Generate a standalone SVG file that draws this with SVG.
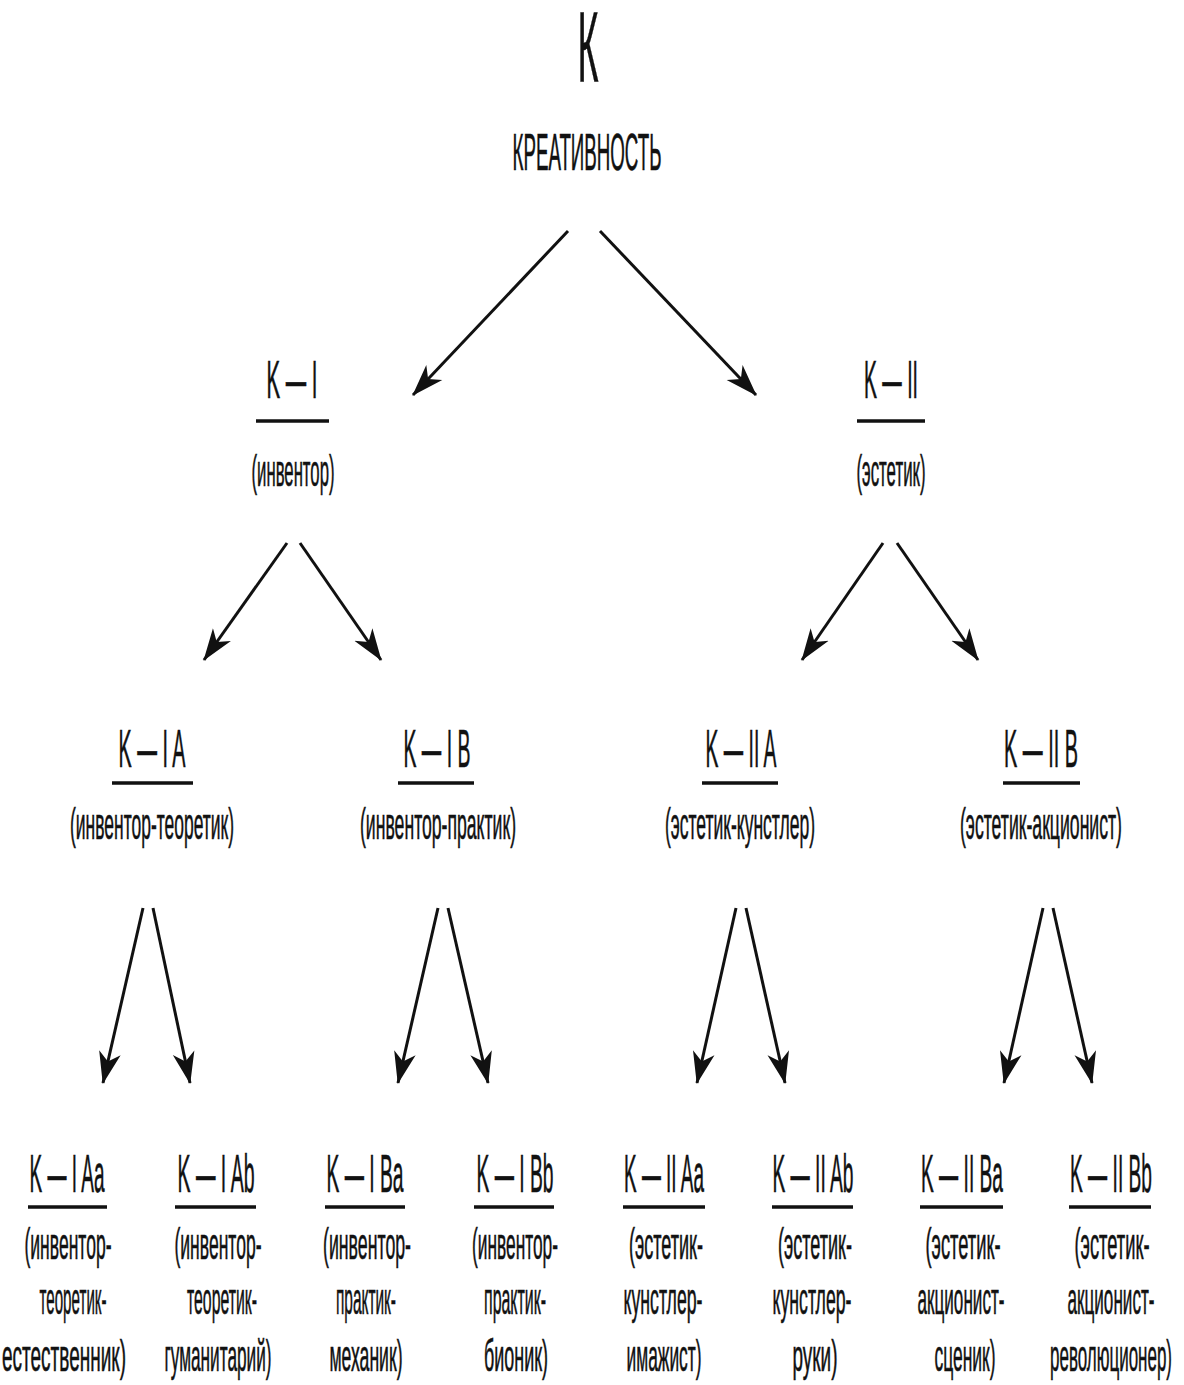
<svg xmlns="http://www.w3.org/2000/svg" width="1184" height="1385" viewBox="0 0 1184 1385">
<style>
text{font-family:"Liberation Sans",Arial,sans-serif;fill:#111;stroke:#111;stroke-width:0.6;text-anchor:middle}
.h{font-size:54px}
.p{font-size:44px}
.u{stroke:#111;stroke-width:3.4}
.c line{stroke:#111;stroke-width:3;marker-end:url(#ah)}
</style>
<defs>
<marker id="ah" markerUnits="userSpaceOnUse" viewBox="0 0 32 24" refX="31" refY="12" markerWidth="32" markerHeight="24" orient="auto">
<path d="M32,12 L0,1 L9,12 L0,23 Z" fill="#111"/>
</marker>
</defs>
<rect width="1184" height="1385" fill="#fff"/>

<g id="root">
<text x="588" y="82" style="font-size:100px" textLength="21" lengthAdjust="spacingAndGlyphs">К</text>
<text x="587" y="170" style="font-size:52px" textLength="149" lengthAdjust="spacingAndGlyphs">КРЕАТИВНОСТЬ</text>
</g>

<g id="k1">
<text class="h" x="292" y="398" textLength="51" lengthAdjust="spacingAndGlyphs">K — I</text>
<line class="u" x1="256" y1="421" x2="329" y2="421"/>
<text class="p" x="293" y="486" textLength="83" lengthAdjust="spacingAndGlyphs">(инвентор)</text>
</g>
<g id="k2">
<text class="h" x="891" y="398" textLength="54" lengthAdjust="spacingAndGlyphs">K — II</text>
<line class="u" x1="857" y1="421" x2="925" y2="421"/>
<text class="p" x="891" y="486" textLength="69" lengthAdjust="spacingAndGlyphs">(эстетик)</text>
</g>

<g id="k1a">
<text class="h" x="152" y="767" textLength="67" lengthAdjust="spacingAndGlyphs">K — I A</text>
<line class="u" x1="112" y1="783" x2="193" y2="783"/>
<text class="p" x="152" y="839" textLength="164" lengthAdjust="spacingAndGlyphs">(инвентор-теоретик)</text>
</g>
<g id="k1b">
<text class="h" x="437" y="767" textLength="67" lengthAdjust="spacingAndGlyphs">K — I B</text>
<line class="u" x1="398" y1="783" x2="474" y2="783"/>
<text class="p" x="438" y="839" textLength="156" lengthAdjust="spacingAndGlyphs">(инвентор-практик)</text>
</g>
<g id="k2a">
<text class="h" x="741" y="767" textLength="71" lengthAdjust="spacingAndGlyphs">K — II A</text>
<line class="u" x1="702" y1="783" x2="778" y2="783"/>
<text class="p" x="740" y="839" textLength="150" lengthAdjust="spacingAndGlyphs">(эстетик-кунстлер)</text>
</g>
<g id="k2b">
<text class="h" x="1041" y="767" textLength="74" lengthAdjust="spacingAndGlyphs">K — II B</text>
<line class="u" x1="1003" y1="783" x2="1080" y2="783"/>
<text class="p" x="1041" y="839" textLength="162" lengthAdjust="spacingAndGlyphs">(эстетик-акционист)</text>
</g>

<g id="k1aa">
<text class="h" x="67" y="1192" textLength="75" lengthAdjust="spacingAndGlyphs">K — I Aa</text>
<line class="u" x1="28" y1="1207" x2="107" y2="1207"/>
<text class="p" x="68" y="1259" textLength="87" lengthAdjust="spacingAndGlyphs">(инвентор-</text>
<text class="p" x="73" y="1314" textLength="67" lengthAdjust="spacingAndGlyphs">теоретик-</text>
<text class="p" x="64" y="1371" textLength="124" lengthAdjust="spacingAndGlyphs">естественник)</text>
</g>
<g id="k1ab">
<text class="h" x="216" y="1192" textLength="77" lengthAdjust="spacingAndGlyphs">K — I Ab</text>
<line class="u" x1="175" y1="1207" x2="256" y2="1207"/>
<text class="p" x="218" y="1259" textLength="87" lengthAdjust="spacingAndGlyphs">(инвентор-</text>
<text class="p" x="222" y="1314" textLength="70" lengthAdjust="spacingAndGlyphs">теоретик-</text>
<text class="p" x="218" y="1371" textLength="107" lengthAdjust="spacingAndGlyphs">гуманитарий)</text>
</g>
<g id="k1ba">
<text class="h" x="365" y="1192" textLength="77" lengthAdjust="spacingAndGlyphs">K — I Ba</text>
<line class="u" x1="325" y1="1207" x2="405" y2="1207"/>
<text class="p" x="367" y="1259" textLength="88" lengthAdjust="spacingAndGlyphs">(инвентор-</text>
<text class="p" x="366" y="1314" textLength="60" lengthAdjust="spacingAndGlyphs">практик-</text>
<text class="p" x="366" y="1371" textLength="73" lengthAdjust="spacingAndGlyphs">механик)</text>
</g>
<g id="k1bb">
<text class="h" x="515" y="1192" textLength="77" lengthAdjust="spacingAndGlyphs">K — I Bb</text>
<line class="u" x1="474" y1="1207" x2="554" y2="1207"/>
<text class="p" x="515" y="1259" textLength="86" lengthAdjust="spacingAndGlyphs">(инвентор-</text>
<text class="p" x="515" y="1314" textLength="62" lengthAdjust="spacingAndGlyphs">практик-</text>
<text class="p" x="516" y="1371" textLength="64" lengthAdjust="spacingAndGlyphs">бионик)</text>
</g>
<g id="k2aa">
<text class="h" x="664" y="1192" textLength="80" lengthAdjust="spacingAndGlyphs">K — II Aa</text>
<line class="u" x1="623" y1="1207" x2="705" y2="1207"/>
<text class="p" x="666" y="1259" textLength="74" lengthAdjust="spacingAndGlyphs">(эстетик-</text>
<text class="p" x="663" y="1314" textLength="79" lengthAdjust="spacingAndGlyphs">кунстлер-</text>
<text class="p" x="664" y="1371" textLength="75" lengthAdjust="spacingAndGlyphs">имажист)</text>
</g>
<g id="k2ab">
<text class="h" x="813" y="1192" textLength="81" lengthAdjust="spacingAndGlyphs">K — II Ab</text>
<line class="u" x1="772" y1="1207" x2="853" y2="1207"/>
<text class="p" x="815" y="1259" textLength="74" lengthAdjust="spacingAndGlyphs">(эстетик-</text>
<text class="p" x="812" y="1314" textLength="79" lengthAdjust="spacingAndGlyphs">кунстлер-</text>
<text class="p" x="815" y="1371" textLength="45" lengthAdjust="spacingAndGlyphs">руки)</text>
</g>
<g id="k2ba">
<text class="h" x="962" y="1192" textLength="82" lengthAdjust="spacingAndGlyphs">K — II Ba</text>
<line class="u" x1="920" y1="1207" x2="1003" y2="1207"/>
<text class="p" x="963" y="1259" textLength="75" lengthAdjust="spacingAndGlyphs">(эстетик-</text>
<text class="p" x="961" y="1314" textLength="87" lengthAdjust="spacingAndGlyphs">акционист-</text>
<text class="p" x="965" y="1371" textLength="61" lengthAdjust="spacingAndGlyphs">сценик)</text>
</g>
<g id="k2bb">
<text class="h" x="1111" y="1192" textLength="82" lengthAdjust="spacingAndGlyphs">K — II Bb</text>
<line class="u" x1="1069" y1="1207" x2="1151" y2="1207"/>
<text class="p" x="1112" y="1259" textLength="75" lengthAdjust="spacingAndGlyphs">(эстетик-</text>
<text class="p" x="1111" y="1314" textLength="87" lengthAdjust="spacingAndGlyphs">акционист-</text>
<text class="p" x="1111" y="1371" textLength="122" lengthAdjust="spacingAndGlyphs">революционер)</text>
</g>

<g id="connectors" class="c">
<line x1="568" y1="231" x2="413" y2="395"/>
<line x1="600" y1="231" x2="756" y2="395"/>
<line x1="287" y1="543" x2="204" y2="660"/>
<line x1="300" y1="543" x2="381" y2="660"/>
<line x1="883" y1="543" x2="802" y2="660"/>
<line x1="897" y1="543" x2="978" y2="660"/>
<line x1="143" y1="908" x2="103" y2="1083"/>
<line x1="153" y1="908" x2="190" y2="1083"/>
<line x1="438" y1="908" x2="398" y2="1083"/>
<line x1="448" y1="908" x2="488" y2="1083"/>
<line x1="736" y1="908" x2="697" y2="1083"/>
<line x1="746" y1="908" x2="785" y2="1083"/>
<line x1="1043" y1="908" x2="1004" y2="1083"/>
<line x1="1053" y1="908" x2="1092" y2="1083"/>
</g>
</svg>
